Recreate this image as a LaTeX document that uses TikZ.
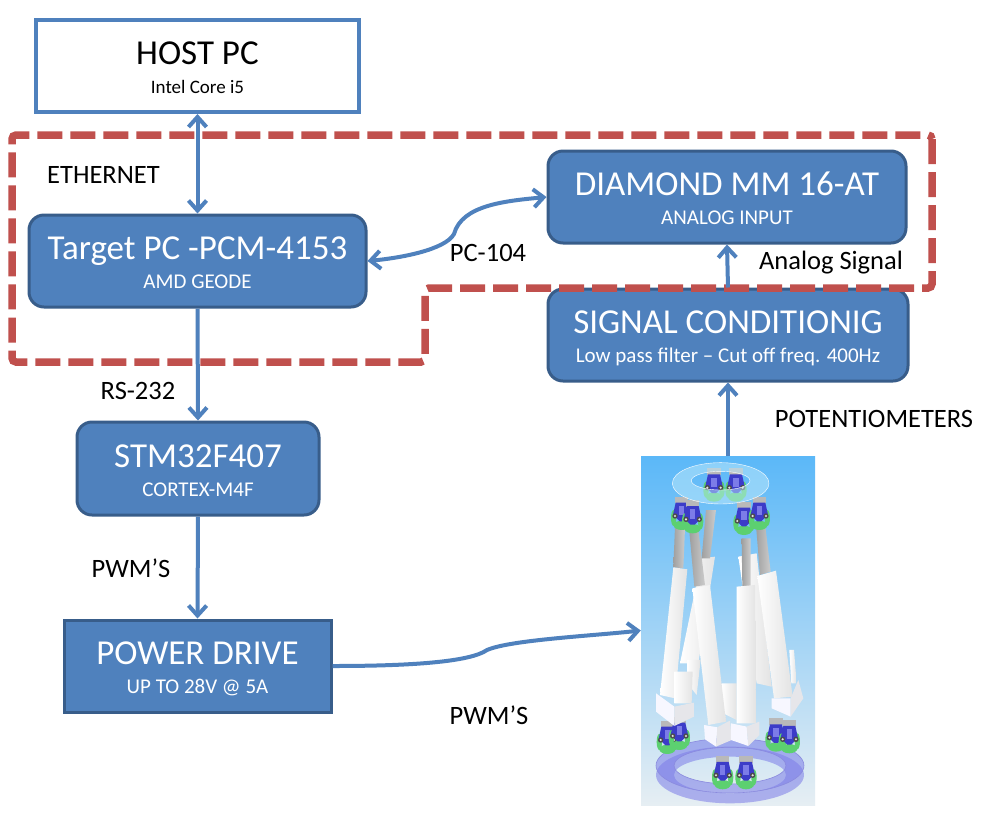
\documentclass[tikz,border=0pt]{standalone}
\usepackage{fontspec}
\setmainfont{Carlito}
\usetikzlibrary{arrows.meta}
\definecolor{boxblue}{HTML}{4F81BD}
\definecolor{boxedge}{HTML}{385D8A}
\definecolor{dashred}{HTML}{C0504D}
\definecolor{skytop}{HTML}{5BB8F8}
\definecolor{skylow}{HTML}{E6EEF3}
\definecolor{ringblue}{HTML}{7C7CE8}
\definecolor{linkblue}{HTML}{3C3CC8}
\definecolor{linkgreen}{HTML}{5CD070}
\newcommand{\titletext}{\fontsize{35}{36}\selectfont\rule[-9pt]{0pt}{41pt}}
\newcommand{\subtext}{\fontsize{21}{25}\selectfont}
\newcommand{\hostsub}{\fontsize{19}{25}\selectfont}
\newcommand{\subend}{\rule[-6pt]{0pt}{25pt}}
\newcommand{\labeltext}{\fontsize{26.5}{28}\selectfont}
\newcommand{\jointat}[2]{%
  \fill[gray!55] (#1-20,#2-50) rectangle (#1+20,#2-30);
  \fill[linkgreen] (#1,#2+36) ellipse (24 and 14);
  \fill[linkgreen] (#1-24,#2+14) ellipse (8 and 24);
  \fill[linkgreen] (#1+24,#2+14) ellipse (8 and 24);
  \fill[linkblue] (#1-18,#2-32) -- (#1+18,#2-32) -- (#1+26,#2+4) -- (#1+6,#2+24) -- (#1-6,#2+24) -- (#1-26,#2+4) -- cycle;
  \fill[ringblue] (#1-8,#2-22) rectangle (#1+8,#2+6);
  \fill[gray!60!black] (#1-20,#2+8) circle (8);
  \fill[gray!20] (#1-20,#2+8) circle (3.5);
  \fill[gray!60!black] (#1+20,#2+8) circle (8);
  \fill[gray!20] (#1+20,#2+8) circle (3.5);
}
\newcommand{\legtube}[8]{%
  \shade[left color=white, right color=gray!22] (#1,#2) -- (#3,#4) -- (#5,#6) -- (#7,#8) -- cycle;
}
\newcommand{\legrod}[8]{%
  \shade[left color=gray!75, right color=gray!40] (#1,#2) -- (#3,#4) -- (#5,#6) -- (#7,#8) -- cycle;
}
\tikzset{
  bluebox/.style={draw=boxedge, fill=boxblue, line width=3pt, rounded corners=15pt, text=white,
    align=center, inner sep=0pt},
  flow/.style={draw=boxblue, line width=4pt, -{Straight Barb[length=10pt,width=18pt]}},
  flowboth/.style={flow, {Straight Barb[length=10pt,width=18pt]}-{Straight Barb[length=10pt,width=18pt]}},
  tag/.style={font=\labeltext, text=black, inner sep=0pt},
  lightface/.style={fill=white!97!blue},
  darkface/.style={fill=blue!8!gray!18}
}
\begin{document}
\begin{tikzpicture}[x=1pt,y=-1pt]
  \useasboundingbox[fill=white] (0,0) rectangle (1002,815);

  % Robot
  \node[minimum width=174pt, minimum height=349pt, inner sep=0pt, top color=skytop,
    bottom color=skylow] (robot) at (728,630.5) {};
  \begin{scope}[shift={(630,450)}, x=0.3333pt, y=-0.3333pt]
    % lower ring
    \fill[ringblue, fill opacity=0.55, even odd rule] (300,975) ellipse (222 and 85) (300,975) ellipse (168 and 55);
    \fill[ringblue, fill opacity=0.55, even odd rule] (300,947) ellipse (222 and 82) (300,947) ellipse (168 and 55);
    \draw[linkblue!60!white, line width=0.6pt] (300,947) ellipse (222 and 82) (300,947) ellipse (168 and 55);
    % legs at the back
    \legtube{215}{325}{255}{320}{205}{640}{150}{640}
    \legtube{325}{320}{380}{310}{425}{710}{380}{700}
    \legtube{172}{630}{212}{630}{200}{735}{172}{700}
    \legtube{478}{600}{492}{600}{500}{700}{484}{700}
    \legtube{275}{700}{320}{700}{320}{810}{280}{790}
    \legrod{228}{180}{258}{180}{240}{325}{215}{325}
    % joints at the bottom
    \jointat{112}{862}
    \jointat{148}{850}
    \jointat{278}{968}
    \jointat{348}{968}
    \jointat{438}{855}
    \jointat{478}{860}
    % legs in front
    \legrod{135}{230}{165}{235}{160}{355}{130}{352}
    \legrod{178}{245}{205}{240}{225}{405}{193}{410}
    \legrod{335}{265}{362}{265}{362}{408}{337}{408}
    \legrod{378}{225}{405}{220}{422}{365}{390}{375}
    \legtube{130}{352}{172}{358}{135}{745}{90}{735}
    \legtube{187}{415}{240}{405}{288}{815}{235}{825}
    \legtube{320}{410}{375}{405}{378}{820}{320}{820}
    \legtube{382}{378}{438}{362}{488}{740}{432}{745}
    \legtube{133}{665}{188}{665}{185}{760}{133}{760}
    % blocks
    \fill[lightface] (78,730) -- (133,770) -- (133,828) -- (78,785) -- cycle;
    \fill[darkface] (133,770) -- (192,758) -- (192,800) -- (133,828) -- cycle;
    \fill[lightface] (222,825) -- (262,832) -- (258,890) -- (225,868) -- cycle;
    \fill[darkface] (262,832) -- (300,812) -- (305,870) -- (258,890) -- cycle;
    \fill[lightface] (303,820) -- (350,830) -- (355,888) -- (303,870) -- cycle;
    \fill[darkface] (350,830) -- (388,815) -- (388,855) -- (355,888) -- cycle;
    \fill[lightface] (425,745) -- (482,745) -- (482,800) -- (425,775) -- cycle;
    \fill[darkface] (482,745) -- (505,690) -- (520,745) -- (482,800) -- cycle;
    % joints at the top
    \jointat{155}{190}
    \jointat{188}{200}
    \jointat{342}{205}
    \jointat{388}{190}
    \jointat{252}{105}
    \jointat{318}{105}
    % upper ring
    \fill[cyan!25!white, fill opacity=0.5, draw=white, even odd rule] (272,100) ellipse (145 and 62) (272,92) ellipse (88 and 28);
  \end{scope}

  % Boxes
  \node[draw=boxblue, line width=4pt, fill=white, align=center, inner sep=0pt, minimum width=323pt, minimum height=92pt]
    (host) at (197.5,66) {\titletext HOST PC\\\hostsub Intel Core i5\subend};
  \node[bluebox, minimum width=337pt, minimum height=92pt] (target) at (197.5,261)
    {\titletext Target PC -PCM-4153\\\subtext AMD GEODE\subend};
  \node[bluebox, minimum width=358pt, minimum height=92pt] (diamond) at (727,197)
    {\titletext DIAMOND MM 16-AT\\\subtext ANALOG INPUT\subend};
  \node[bluebox, minimum width=360pt, minimum height=92pt] (signal) at (728,335)
    {\titletext SIGNAL CONDITIONIG\\\subtext Low pass filter -- Cut off freq. 400Hz\subend};
  \node[bluebox, minimum width=242pt, minimum height=93pt] (stm) at (198,468.5)
    {\titletext STM32F407\\\subtext CORTEX-M4F\subend};
  \node[bluebox, rounded corners=0pt, minimum width=267pt, minimum height=92pt] (power) at (197.5,666)
    {\titletext POWER DRIVE\\\subtext UP TO 28V @ 5A\subend};

  % Dashed outline
  \draw[dashred, line width=7.5pt, dash pattern=on 25pt off 8pt, rounded corners=4pt]
    (932,135) -- (932,288) -- (425,288) -- (425,362) -- (12,362) -- (12,135) -- cycle;

  % Connectors
  \draw[flowboth] (host.south) -- (target.north);
  \draw[flow] (target.south) -- (stm.north);
  \draw[flow] (stm.south) -- (power.north);
  \draw[flow] (signal.north) -- (diamond.south);
  \draw[flow] (robot.north) -- (signal.south);
  \draw[flowboth] (target.east) .. controls (400,258) and (445,250) .. (454,234)
    .. controls (462,205) and (505,201) .. (diamond.west);
  \draw[flow] (power.east) .. controls (410,666) and (470,662) .. (487,650)
    .. controls (510,640) and (590,636) .. (robot.west);

  % Labels
  \node[tag] (ethernet) at (103.5,175) {ETHERNET};
  \node[tag] (pc104) at (488,253) {PC-104};
  \node[tag] (analog) at (831,263) {Analog Signal};
  \node[tag] (rs232) at (138,391) {RS-232};
  \node[tag] (pwma) at (131,568) {PWM’S};
  \node[tag] (pwmb) at (489,715) {PWM’S};
  \node[tag] (pots) at (874,419) {POTENTIOMETERS};
\end{tikzpicture}
\end{document}
